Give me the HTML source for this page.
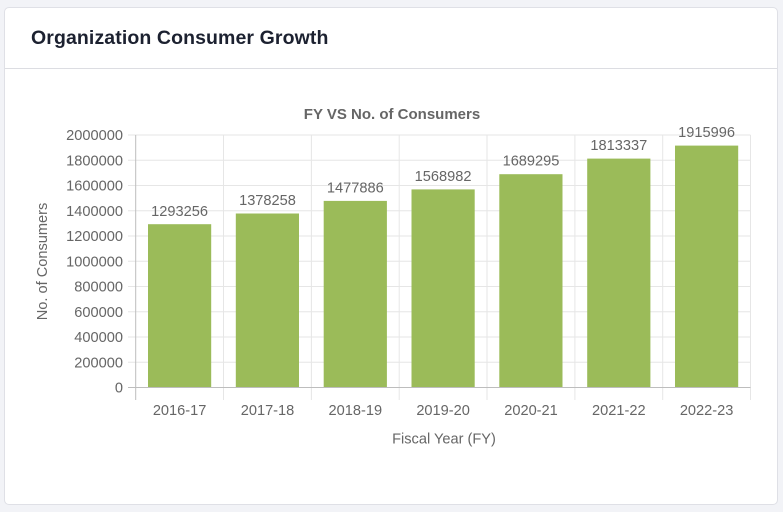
<!DOCTYPE html>
<html><head><meta charset="utf-8"><style>
html,body{margin:0;padding:0;background:#f2f3f7;width:783px;height:512px;overflow:hidden;font-family:"Liberation Sans",Arial,sans-serif;}
.card{position:absolute;left:4px;top:7px;width:774px;height:498px;background:#fff;border:1px solid #dfe0e6;border-radius:5px;box-sizing:border-box;}
.hdr{position:absolute;left:0;top:0;right:0;height:60px;border-bottom:1px solid #dcdde2;}
.hdr span{position:absolute;left:26px;top:19px;font-size:19.5px;font-weight:bold;color:#1c2130;letter-spacing:0.1px;}
svg{position:absolute;left:0;top:0;}
</style></head><body>
<div class="card"><div class="hdr"><span>Organization Consumer Growth</span></div></div>
<svg width="783" height="512" viewBox="0 0 783 512" font-family="Liberation Sans, Arial, sans-serif">
<g stroke="#e6e6e6" stroke-width="1">
<line x1="128" y1="362.25" x2="750.5" y2="362.25"/>
<line x1="128" y1="337" x2="750.5" y2="337"/>
<line x1="128" y1="311.75" x2="750.5" y2="311.75"/>
<line x1="128" y1="286.5" x2="750.5" y2="286.5"/>
<line x1="128" y1="261.25" x2="750.5" y2="261.25"/>
<line x1="128" y1="236" x2="750.5" y2="236"/>
<line x1="128" y1="210.75" x2="750.5" y2="210.75"/>
<line x1="128" y1="185.5" x2="750.5" y2="185.5"/>
<line x1="128" y1="160.25" x2="750.5" y2="160.25"/>
<line x1="128" y1="135" x2="750.5" y2="135"/>
<line x1="223.5" y1="135" x2="223.5" y2="400"/>
<line x1="311.4" y1="135" x2="311.4" y2="400"/>
<line x1="399.2" y1="135" x2="399.2" y2="400"/>
<line x1="487" y1="135" x2="487" y2="400"/>
<line x1="574.9" y1="135" x2="574.9" y2="400"/>
<line x1="662.7" y1="135" x2="662.7" y2="400"/>
<line x1="750.5" y1="135" x2="750.5" y2="400"/>
</g>
<g fill="#9bbb59">
<rect x="148" y="224.2" width="63.2" height="163.3"/>
<rect x="235.8" y="213.5" width="63.2" height="174"/>
<rect x="323.7" y="200.9" width="63.2" height="186.6"/>
<rect x="411.5" y="189.4" width="63.2" height="198.1"/>
<rect x="499.3" y="174.2" width="63.2" height="213.3"/>
<rect x="587.2" y="158.6" width="63.2" height="228.9"/>
<rect x="675" y="145.6" width="63.2" height="241.9"/>
</g>
<g stroke="#bdbdbd" stroke-width="1">
<line x1="135.7" y1="135" x2="135.7" y2="400"/>
<line x1="128" y1="387.5" x2="750.5" y2="387.5"/>
</g>
<g fill="#666" font-size="14.6" text-anchor="end">
<text x="123" y="392.5">0</text>
<text x="123" y="367.25">200000</text>
<text x="123" y="342">400000</text>
<text x="123" y="316.75">600000</text>
<text x="123" y="291.5">800000</text>
<text x="123" y="266.25">1000000</text>
<text x="123" y="241">1200000</text>
<text x="123" y="215.75">1400000</text>
<text x="123" y="190.5">1600000</text>
<text x="123" y="165.25">1800000</text>
<text x="123" y="140">2000000</text>
</g>
<g fill="#666" font-size="14.6" text-anchor="middle">
<text x="179.6" y="415">2016-17</text>
<text x="267.5" y="415">2017-18</text>
<text x="355.3" y="415">2018-19</text>
<text x="443.1" y="415">2019-20</text>
<text x="531" y="415">2020-21</text>
<text x="618.8" y="415">2021-22</text>
<text x="706.6" y="415">2022-23</text>
<text x="179.6" y="216">1293256</text>
<text x="267.5" y="205">1378258</text>
<text x="355.3" y="192.4">1477886</text>
<text x="443.1" y="180.9">1568982</text>
<text x="531" y="165.7">1689295</text>
<text x="618.8" y="150.1">1813337</text>
<text x="706.6" y="137.1">1915996</text>
<text x="444" y="443.5">Fiscal Year (FY)</text>
<text x="392" y="119" font-weight="bold" font-size="15">FY VS No. of Consumers</text>
<text transform="translate(47,261.5) rotate(-90)" x="0" y="0">No. of Consumers</text>
</g>
</svg>
</body></html>
